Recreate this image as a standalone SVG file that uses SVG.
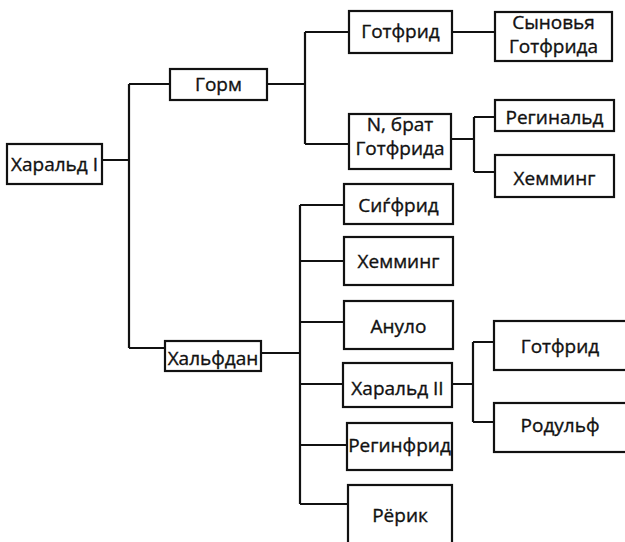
<svg xmlns="http://www.w3.org/2000/svg" width="625" height="542" viewBox="0 0 625 542">
<style>
.b{fill:#fff;stroke:#111;stroke-width:2.2}
.c{fill:none;stroke:#111;stroke-width:2.2}
text{font-family:"Open Sans","Noto Sans","DejaVu Sans",sans-serif;font-size:19px;fill:#111;stroke:#111;stroke-width:0.35;text-anchor:middle}
</style>
<rect width="625" height="542" fill="#fff"/>
<g id="connectors" class="c">
<path d="M102,160H129M129,84V348M129,84H170M129,348H165"/>
<path d="M267,84H305M305,32V144M305,32H349M305,144H349"/>
<path d="M452,32H495"/>
<path d="M451,139H474M474,117V172M474,117H495M474,172H495"/>
<path d="M261,353H300M300,205V504M300,205H344M300,261H344M300,322H344M300,384H343M300,445H347M300,504H348"/>
<path d="M452,384H473M473,342V422M473,342H494M473,422H494"/>
</g>
<g id="harald1"><rect class="b" x="7" y="144" width="95" height="40"/><text x="54.5" y="171">Харальд I</text></g>
<g id="gorm"><rect class="b" x="170" y="69" width="97" height="31"/><text x="218.5" y="91">Горм</text></g>
<g id="gotfrid1"><rect class="b" x="349" y="11" width="103" height="42"/><text x="400.5" y="38">Готфрид</text></g>
<g id="sons"><rect class="b" x="495" y="12" width="117" height="49"/><text x="553.5" y="29">Сыновья</text><text x="553.5" y="53">Готфрида</text></g>
<g id="nbrat"><rect class="b" x="349" y="114" width="102" height="55"/><text x="400" y="131">N, брат</text><text x="400" y="155">Готфрида</text></g>
<g id="reginald"><rect class="b" x="495" y="100" width="119" height="31"/><text x="554.5" y="124">Регинальд</text></g>
<g id="hemming1"><rect class="b" x="495" y="155" width="119" height="42"/><text x="554.5" y="185">Хемминг</text></g>
<g id="halfdan"><rect class="b" x="165" y="341" width="96" height="30"/><text x="213" y="365">Хальфдан</text></g>
<g id="sigfrid"><rect class="b" x="344" y="184" width="109" height="40"/><text x="398.5" y="212">Сиѓфрид</text></g>
<g id="hemming2"><rect class="b" x="344" y="237" width="109" height="48"/><text x="398.5" y="268">Хемминг</text></g>
<g id="anulo"><rect class="b" x="344" y="301" width="109" height="48"/><text x="398.5" y="333">Ануло</text></g>
<g id="harald2"><rect class="b" x="343" y="363" width="109" height="44"/><text x="397.5" y="395">Харальд II</text></g>
<g id="reginfrid"><rect class="b" x="347" y="423" width="105" height="47"/><text x="399.5" y="452">Регинфрид</text></g>
<g id="rerik"><rect class="b" x="348" y="485" width="104" height="62"/><text x="400" y="522">Рёрик</text></g>
<g id="gotfrid2"><rect class="b" x="494" y="321" width="134" height="49"/><text x="560" y="353">Готфрид</text></g>
<g id="rodulf"><rect class="b" x="494" y="403" width="134" height="49"/><text x="560" y="432">Родульф</text></g>
</svg>
